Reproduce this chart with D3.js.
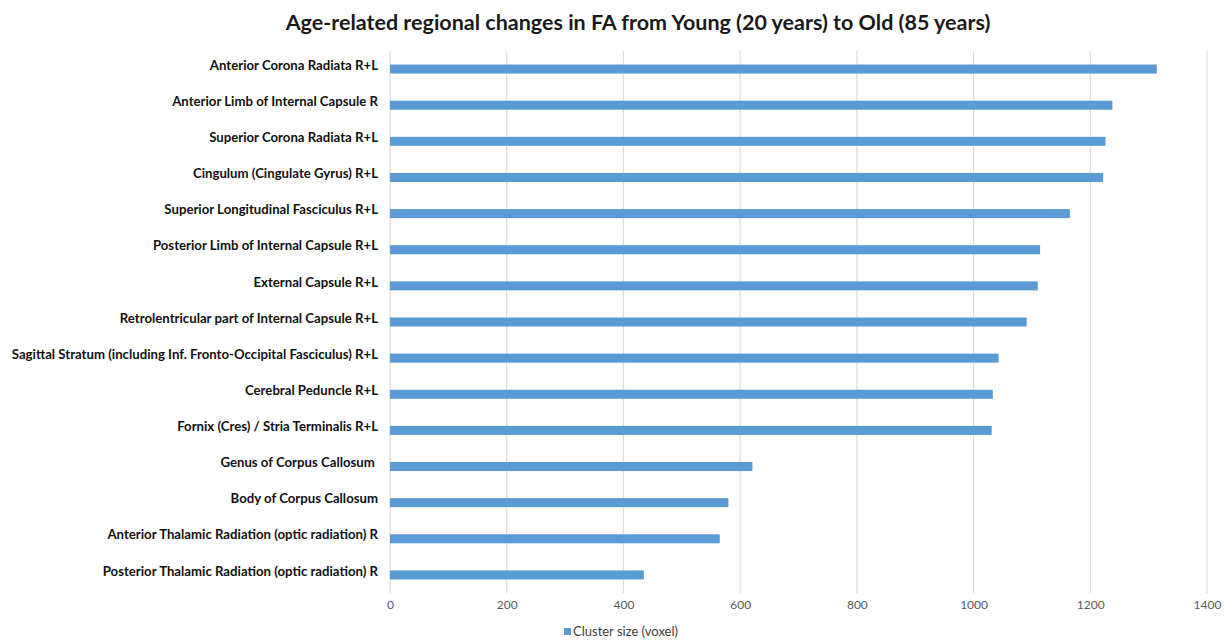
<!DOCTYPE html>
<html>
<head>
<meta charset="utf-8">
<script src="https://cdn.jsdelivr.net/npm/d3@7"></script>
<style>
  html, body { margin: 0; padding: 0; background: #fff; }
  svg { display: block; }
</style>
</head>
<body>
<svg id="chart" width="1228" height="640"></svg>
<script>
// Regions (top to bottom) and their cluster sizes in voxels
const regions = [
  "Anterior Corona Radiata R+L",
  "Anterior Limb of Internal Capsule R",
  "Superior Corona Radiata R+L",
  "Cingulum (Cingulate Gyrus) R+L",
  "Superior Longitudinal Fasciculus R+L",
  "Posterior Limb of Internal Capsule R+L",
  "External Capsule R+L",
  "Retrolentricular part of Internal Capsule R+L",
  "Sagittal Stratum (including Inf. Fronto-Occipital Fasciculus) R+L",
  "Cerebral Peduncle R+L",
  "Fornix (Cres) / Stria Terminalis R+L",
  "Genus of Corpus Callosum ",
  "Body of Corpus Callosum",
  "Anterior Thalamic Radiation (optic radiation) R",
  "Posterior Thalamic Radiation (optic radiation) R"
];
const clusterSize = [1314, 1238, 1226, 1222, 1165, 1114, 1110, 1091, 1043, 1033, 1031, 621, 580, 565, 435];
const xTicks = [0, 200, 400, 600, 800, 1000, 1200, 1400];
const seriesName = "Cluster size (voxel)";
const titleText = "Age-related regional changes in FA from Young (20 years) to Old (85 years)";

const svg = d3.select("#chart");
const font = "Lato, 'Open Sans', sans-serif";

const margin = { left: 390, right: 21, top: 51, bottom: 47 };
const W = 1228, H = 640;

const x = d3.scaleLinear().domain([0, 1400]).range([margin.left, W - margin.right]);
const y = d3.scaleBand().domain(regions).range([margin.top, H - margin.bottom]).paddingInner(0.75).paddingOuter(0.375);

// Title
svg.append("text")
  .attr("x", 638).attr("y", 30)
  .attr("text-anchor", "middle")
  .attr("font-family", font)
  .attr("font-weight", "bold")
  .attr("font-size", 21.5)
  .attr("fill", "#1a1a1a")
  .text(titleText);

// Vertical gridlines
svg.append("g")
  .selectAll("line")
  .data(xTicks)
  .join("line")
  .attr("x1", d => x(d)).attr("x2", d => x(d))
  .attr("y1", margin.top).attr("y2", H - margin.bottom)
  .attr("stroke", "#dcdcdc")
  .attr("stroke-width", 1.2);

// Bars
svg.append("g")
  .selectAll("rect")
  .data(regions)
  .join("rect")
  .attr("x", x(0))
  .attr("y", d => y(d))
  .attr("width", (d, i) => x(clusterSize[i]) - x(0))
  .attr("height", y.bandwidth())
  .attr("fill", "#5b9bd5");

// Category labels (keep trailing spaces in names)
const yAxis = d3.axisLeft(y).tickSize(0).tickPadding(0);
const gy = svg.append("g")
  .attr("transform", `translate(${margin.left - 12},0)`)
  .call(yAxis);
gy.select(".domain").remove();
gy.selectAll("text")
  .style("white-space", "pre")
  .attr("font-family", font)
  .attr("font-weight", "bold")
  .attr("font-size", 13.2)
  .attr("fill", "#111")
  .attr("dy", "0.05em");

// Value axis labels
const xAxis = d3.axisBottom(x).tickValues(xTicks).tickFormat(d3.format("d")).tickSize(0).tickPadding(0);
const gx = svg.append("g")
  .attr("transform", `translate(0,${H - margin.bottom + 7})`)
  .call(xAxis);
gx.select(".domain").remove();
gx.selectAll("text")
  .attr("font-family", font)
  .attr("font-size", 12)
  .attr("fill", "#595959");

// Legend
const lg = svg.append("g").attr("transform", "translate(564,628)");
lg.append("rect").attr("x", 0).attr("y", 0).attr("width", 7).attr("height", 7).attr("fill", "#5b9bd5");
lg.append("text")
  .attr("x", 9).attr("y", 8)
  .attr("font-family", font)
  .attr("font-size", 13)
  .attr("fill", "#404040")
  .text(seriesName);
</script>
</body>
</html>
